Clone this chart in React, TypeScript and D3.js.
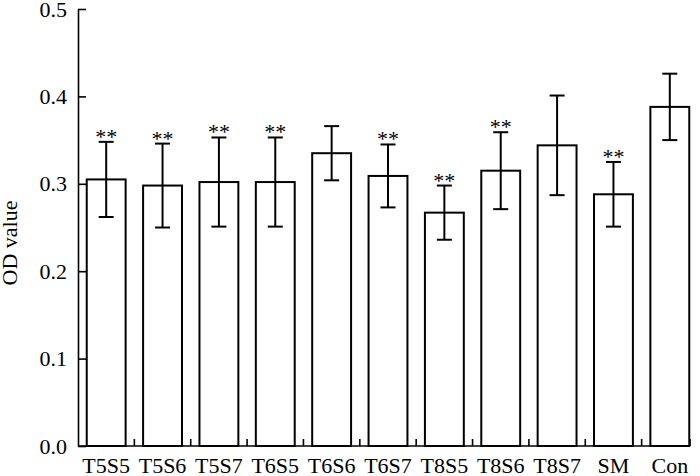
import React, { useEffect, useRef } from 'react';
import * as d3 from 'd3';

// groups and OD readings (mean, sd)
const groups = ['T5S5', 'T5S6', 'T5S7', 'T6S5', 'T6S6', 'T6S7', 'T8S5', 'T8S6', 'T8S7', 'SM', 'Con'];
const odMean = [0.305, 0.298, 0.302, 0.302, 0.335, 0.309, 0.267, 0.315, 0.344, 0.288, 0.388];
const odSd = [0.043, 0.048, 0.051, 0.051, 0.031, 0.036, 0.031, 0.044, 0.057, 0.037, 0.038];
const marks = ['**', '**', '**', '**', '', '**', '**', '**', '', '**', ''];
const yTicks = [0, 0.1, 0.2, 0.3, 0.4, 0.5];

const W = 700;
const H = 476;
const FONT = '"Liberation Serif", "Times New Roman", serif';

export default function App() {
  const svgRef = useRef<SVGSVGElement>(null);

  useEffect(() => {
    const svg = d3.select(svgRef.current);
    svg.selectAll('*').remove();

    const x0 = 78;
    const y0 = 446;

    const x = d3.scaleBand<string>()
      .domain(groups)
      .range([x0, 698])
      .paddingInner(0.31)
      .paddingOuter(0.155);

    const y = d3.scaleLinear()
      .domain([0, 0.5])
      .range([y0, 9]);

    // y axis, ticks point inward
    const yAxis = d3.axisLeft(y)
      .tickValues(yTicks)
      .tickFormat(d3.format('.1f'))
      .tickSizeInner(-8)
      .tickSizeOuter(0)
      .tickPadding(11);

    const yg = svg.append('g')
      .attr('transform', `translate(${x0},0)`)
      .call(yAxis);
    yg.select('.domain').attr('stroke', '#000').attr('stroke-width', 1.6);
    yg.selectAll('.tick line').attr('stroke', '#000').attr('stroke-width', 1.6);
    yg.selectAll('.tick text')
      .attr('font-family', FONT)
      .attr('font-size', 22)
      .attr('fill', '#000');

    svg.append('text')
      .attr('transform', 'translate(17,243) rotate(-90)')
      .attr('text-anchor', 'middle')
      .attr('font-family', FONT)
      .attr('font-size', 22)
      .text('OD value');

    // x axis line with ticks between the bars
    const xEnd = 690;
    svg.append('line')
      .attr('x1', x0).attr('x2', xEnd)
      .attr('y1', y0).attr('y2', y0)
      .attr('stroke', '#000').attr('stroke-width', 1.6);

    const step = x.step();
    const between = groups.slice(1).map(g => (x(g) as number) - step * x.paddingInner() / 2);
    svg.append('g').selectAll('line')
      .data(between.concat([xEnd]))
      .join('line')
      .attr('x1', d => d).attr('x2', d => d)
      .attr('y1', y0).attr('y2', y0 - 7)
      .attr('stroke', '#000').attr('stroke-width', 1.6);

    svg.append('g').selectAll('text')
      .data(groups)
      .join('text')
      .attr('x', d => (x(d) as number) + x.bandwidth() / 2)
      .attr('y', 473)
      .attr('text-anchor', 'middle')
      .attr('font-family', FONT)
      .attr('font-size', 22)
      .text(d => d);

    // bars
    svg.append('g').selectAll('rect')
      .data(groups)
      .join('rect')
      .attr('x', d => x(d) as number)
      .attr('y', (d, i) => y(odMean[i]))
      .attr('width', x.bandwidth())
      .attr('height', (d, i) => y0 - y(odMean[i]))
      .attr('fill', '#fff')
      .attr('stroke', '#000')
      .attr('stroke-width', 2);

    // error bars
    const cap = 7.5;
    const eb = svg.append('g').attr('stroke', '#000').attr('stroke-width', 2);
    groups.forEach((g, i) => {
      const cx = (x(g) as number) + x.bandwidth() / 2;
      const hi = y(odMean[i] + odSd[i]);
      const lo = y(odMean[i] - odSd[i]);
      eb.append('line').attr('x1', cx).attr('x2', cx).attr('y1', hi).attr('y2', lo);
      eb.append('line').attr('x1', cx - cap).attr('x2', cx + cap).attr('y1', hi).attr('y2', hi);
      eb.append('line').attr('x1', cx - cap).attr('x2', cx + cap).attr('y1', lo).attr('y2', lo);
      if (marks[i]) {
        svg.append('text')
          .attr('x', cx)
          .attr('y', hi + 2)
          .attr('text-anchor', 'middle')
          .attr('font-family', FONT)
          .attr('font-size', 22)
          .text(marks[i]);
      }
    });
  }, []);

  return (
    <div>
      <svg ref={svgRef} width={W} height={H} style={{ position: 'absolute', left: 0, top: 0 }}></svg>
    </div>
  );
}
